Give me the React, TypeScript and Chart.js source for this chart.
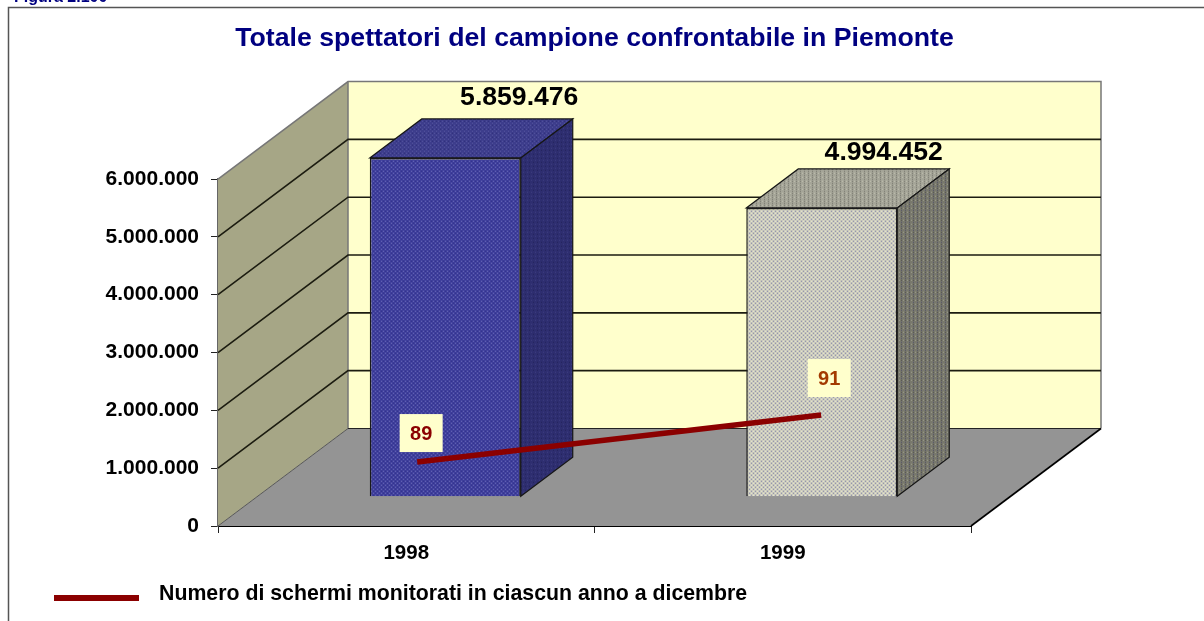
import React, { useEffect, useRef } from "react";
import { Chart, registerables } from "chart.js";

Chart.register(...registerables);

const years = ["1998", "1999"];
const spectators = [5859476, 4994452];
const screens = [89, 91];
const screenPositions = [0.529, 1.602];
const yTicks = [0, 1000000, 2000000, 3000000, 4000000, 5000000, 6000000];

const FIGURE = "Figura 2.100";
const TITLE = "Totale spettatori del campione confrontabile in Piemonte";
const LEGEND = "Numero di schermi monitorati in ciascun anno a dicembre";

const FONT = '"Liberation Sans", Arial, sans-serif';
const DEPTH_X = 130;
const DEPTH_Y = 97.5;
const fmt = (v: number) => String(v).replace(/\B(?=(\d{3})+(?!\d))/g, ".");

function stipple(base: string, dots: [string, number, number][], size = 4) {
  const c = document.createElement("canvas");
  c.width = size;
  c.height = size;
  const g = c.getContext("2d")!;
  g.fillStyle = base;
  g.fillRect(0, 0, size, size);
  dots.forEach(([col, x, y]) => {
    g.fillStyle = col;
    g.fillRect(x, y, 1, 1);
  });
  return g.createPattern(c, "repeat")!;
}

const poly = (ctx: CanvasRenderingContext2D, pts: number[][], fill: any, stroke?: string, lw = 1) => {
  ctx.beginPath();
  pts.forEach(([x, y], i) => (i ? ctx.lineTo(x, y) : ctx.moveTo(x, y)));
  ctx.closePath();
  if (fill) {
    ctx.fillStyle = fill;
    ctx.fill();
  }
  if (stroke) {
    ctx.strokeStyle = stroke;
    ctx.lineWidth = lw;
    ctx.stroke();
  }
};

export default function App() {
  const ref = useRef<HTMLCanvasElement>(null);
  useEffect(() => {
    const blueFront = stipple("#3f3f9c", [["#6a6ab8", 0, 0], ["#6a6ab8", 2, 2], ["#30308a", 2, 0], ["#30308a", 0, 2]]);
    const blueTop = stipple("#3d3d8c", [["#55559f", 1, 0], ["#55559f", 3, 2], ["#2e2e78", 1, 2]]);
    const blueSide = stipple("#2e2e70", [["#3e3e80", 0, 1], ["#22225a", 2, 3]]);
    const greyFront = stipple("#cbcbbd", [["#8585aa", 0, 0], ["#8585aa", 2, 2], ["#ecead2", 2, 0], ["#ecead2", 0, 2]]);
    const greyTop = stipple("#a5a598", [["#78786e", 1, 0], ["#c2c2b0", 3, 2], ["#78786e", 1, 2]]);
    const greySide = stipple("#78786c", [["#a0a090", 0, 1], ["#50506a", 2, 3], ["#50504c", 2, 1]]);
    const fronts = [blueFront, greyFront];
    const tops = [blueTop, greyTop];
    const sides = [blueSide, greySide];

    const offX = DEPTH_X * 0.3;
    const offY = DEPTH_Y * 0.3;
    const barDX = DEPTH_X * 0.4;
    const barDY = DEPTH_Y * 0.4;

    const scene = {
      id: "scene",
      beforeDatasetsDraw(chart: any) {
        const { ctx, chartArea: a, scales } = chart;
        const l = a.left, r = a.right, b = a.bottom, t = a.top;
        ctx.save();
        poly(ctx, [[l + DEPTH_X, t - DEPTH_Y], [r + DEPTH_X, t - DEPTH_Y], [r + DEPTH_X, b - DEPTH_Y], [l + DEPTH_X, b - DEPTH_Y]], "#ffffcc");
        poly(ctx, [[l, t], [l + DEPTH_X, t - DEPTH_Y], [l + DEPTH_X, b - DEPTH_Y], [l, b]], "#a6a686");
        poly(ctx, [[l, b], [l + DEPTH_X, b - DEPTH_Y], [r + DEPTH_X, b - DEPTH_Y], [r, b]], "#949494");
        ctx.strokeStyle = "#777777";
        ctx.lineWidth = 1.5;
        ctx.beginPath();
        ctx.moveTo(l, t);
        ctx.lineTo(l + DEPTH_X, t - DEPTH_Y);
        ctx.lineTo(r + DEPTH_X, t - DEPTH_Y);
        ctx.lineTo(r + DEPTH_X, b - DEPTH_Y);
        ctx.moveTo(l + DEPTH_X, t - DEPTH_Y);
        ctx.lineTo(l + DEPTH_X, b - DEPTH_Y);
        ctx.stroke();
        ctx.strokeStyle = "#1c1c10";
        ctx.lineWidth = 1.6;
        yTicks.slice(1, -1).forEach((v) => {
          const y = scales.y.getPixelForValue(v);
          ctx.beginPath();
          ctx.moveTo(l, y);
          ctx.lineTo(l + DEPTH_X, y - DEPTH_Y);
          ctx.lineTo(r + DEPTH_X, y - DEPTH_Y);
          ctx.stroke();
        });
        ctx.lineWidth = 1;
        ctx.strokeStyle = "#555555";
        ctx.beginPath();
        ctx.moveTo(l, b);
        ctx.lineTo(l + DEPTH_X, b - DEPTH_Y);
        ctx.stroke();
        ctx.strokeStyle = "#222222";
        ctx.beginPath();
        ctx.moveTo(l + DEPTH_X, b - DEPTH_Y);
        ctx.lineTo(r + DEPTH_X, b - DEPTH_Y);
        ctx.stroke();
        ctx.lineWidth = 1.6;
        ctx.strokeStyle = "#000000";
        ctx.beginPath();
        ctx.moveTo(r, b);
        ctx.lineTo(r + DEPTH_X, b - DEPTH_Y);
        ctx.stroke();
        ctx.restore();
      },
      beforeDatasetDraw(chart: any, args: any) {
        if (args.index !== 0) return;
        const { ctx } = chart;
        ctx.save();
        ctx.translate(offX, -offY);
        chart.getDatasetMeta(0).data.forEach((el: any, i: number) => {
          const { x, y, base, width } = el.getProps(["x", "y", "base", "width"], true);
          const x0 = x - width / 2, x1 = x + width / 2;
          poly(ctx, [[x0, y], [x0 + barDX, y - barDY], [x1 + barDX, y - barDY], [x1, y]], tops[i], "#161616", 1.2);
          poly(ctx, [[x1, y], [x1 + barDX, y - barDY], [x1 + barDX, base - barDY], [x1, base]], sides[i], "#161616", 1.2);
        });
      },
      afterDatasetDraw(chart: any, args: any) {
        if (args.index === 0) chart.ctx.restore();
      },
      afterDatasetsDraw(chart: any) {
        const { ctx } = chart;
        ctx.save();
        ctx.textAlign = "center";
        ctx.textBaseline = "middle";
        // Value labels above the boxes
        const valueShift = [[74, -60], [62, -55]];
        ctx.font = `bold 26.6px ${FONT}`;
        ctx.fillStyle = "#000000";
        chart.getDatasetMeta(0).data.forEach((el: any, i: number) => {
          ctx.fillText(fmt(spectators[i]), el.x + offX + valueShift[i][0], el.y - offY + valueShift[i][1]);
        });
        // Screen-count labels
        const labelColors = ["#8b0000", "#a33a00"];
        const labelShift = [[4, -29], [8, -37]];
        ctx.font = `bold 20px ${FONT}`;
        chart.getDatasetMeta(1).data.forEach((el: any, i: number) => {
          const cx = el.x + labelShift[i][0];
          const cy = el.y + labelShift[i][1];
          ctx.fillStyle = "#ffffcc";
          ctx.fillRect(cx - 21.5, cy - 19, 43, 38);
          ctx.fillStyle = labelColors[i];
          ctx.fillText(String(screens[i]), cx, cy + 1);
        });
        // Figure caption, frame and legend
        ctx.textAlign = "left";
        ctx.fillStyle = "#000080";
        ctx.font = `bold 16px ${FONT}`;
        ctx.fillText(FIGURE, 14, -2);
        ctx.strokeStyle = "#555555";
        ctx.lineWidth = 1.5;
        ctx.beginPath();
        ctx.moveTo(8.5, 621);
        ctx.lineTo(8.5, 7.5);
        ctx.lineTo(1204, 7.5);
        ctx.stroke();
        ctx.fillStyle = "#8b0000";
        ctx.fillRect(54, 595, 85, 6);
        ctx.fillStyle = "#000000";
        ctx.font = `bold 21.3px ${FONT}`;
        ctx.fillText(LEGEND, 159, 594);
        ctx.restore();
      },
    };

    const chart = new Chart(ref.current!, {
      data: {
        labels: years,
        datasets: [
          {
            type: "bar",
            label: "Spettatori",
            data: spectators,
            backgroundColor: fronts,
            borderColor: "#1a1a1a",
            borderWidth: 1.5,
            barPercentage: 0.401,
            categoryPercentage: 1,
            grouped: false,
            clip: false,
            order: 2,
            yAxisID: "y",
            xAxisID: "x",
          },
          {
            type: "line",
            label: LEGEND,
            data: screens.map((v, i) => ({ x: screenPositions[i], y: v })),
            borderColor: "#8b0000",
            borderWidth: 5.5,
            pointRadius: 0,
            tension: 0,
            clip: false,
            order: 1,
            xAxisID: "xScreens",
            yAxisID: "yScreens",
          },
        ] as any,
      },
      options: {
        responsive: false,
        animation: false,
        layout: { padding: { left: 0, right: 233, top: 0, bottom: 0 } },
        plugins: {
          legend: { display: false },
          tooltip: { enabled: false },
          title: {
            display: true,
            text: TITLE,
            fullSize: false,
            color: "#000080",
            font: { family: FONT, size: 26.7, weight: "bold", lineHeight: 1.2 },
            padding: { top: 23, bottom: 124 },
          },
        },
        scales: {
          x: {
            type: "category",
            grid: { display: true, drawOnChartArea: false, drawTicks: true, tickLength: 7, color: "#222222", offset: true },
            border: { display: true, color: "#000000", width: 2 },
            ticks: { color: "#000000", font: { family: FONT, size: 20.5, weight: "bold" }, padding: 8 },
            afterFit(s: any) {
              s.height = 95;
            },
          },
          y: {
            type: "linear",
            min: 0,
            max: 6000000,
            grid: { display: true, drawOnChartArea: false, drawTicks: true, tickLength: 7, color: "#222222" },
            border: { display: true, color: "#666666", width: 1.5 },
            ticks: {
              stepSize: 1000000,
              color: "#000000",
              font: { family: FONT, size: 21, weight: "bold" },
              padding: 12,
              callback: (v: any) => fmt(Number(v)),
            },
            afterFit(s: any) {
              s.width = 218;
            },
          },
          xScreens: { type: "linear", display: false, min: 0, max: 2 },
          yScreens: { type: "linear", display: false, min: 86.28, max: 101.04 },
        },
      } as any,
      plugins: [scene],
    } as any);
    return () => chart.destroy();
  }, []);
  return (
    <div style={{ position: "fixed", left: 0, top: 0, width: 1204, height: 621, background: "#ffffff", overflow: "hidden" }}>
      <canvas ref={ref} width={1204} height={621} style={{ display: "block" }} />
    </div>
  );
}
